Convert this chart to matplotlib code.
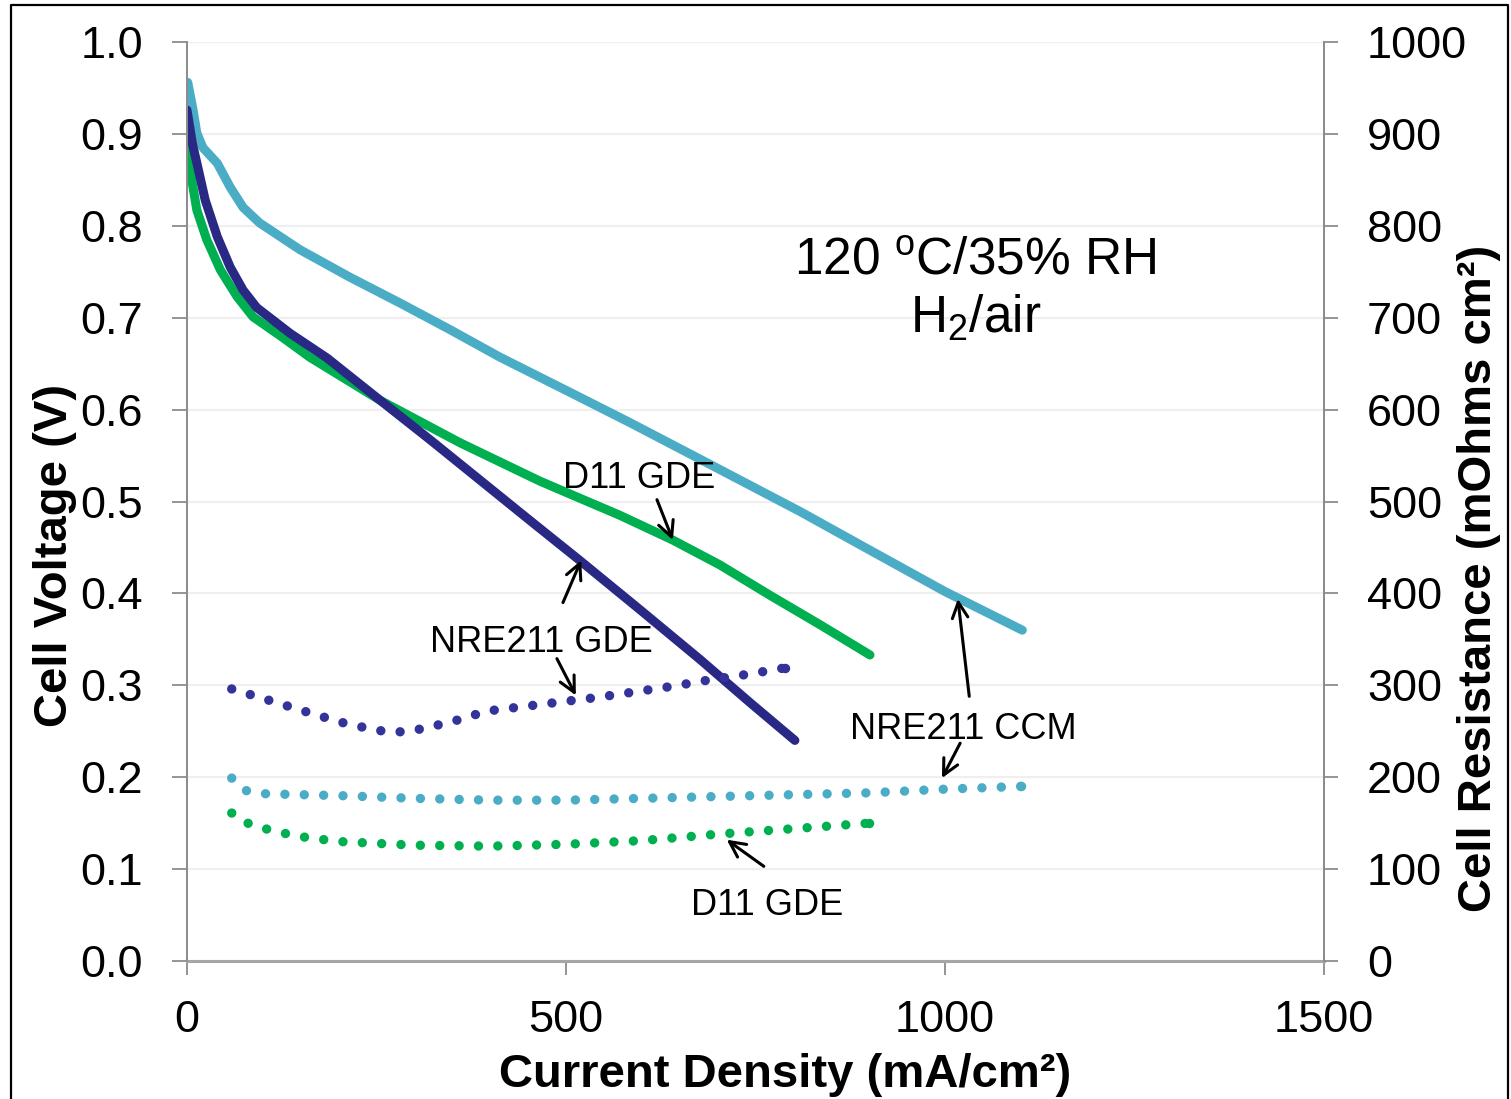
import matplotlib
matplotlib.use("Agg")
import matplotlib.pyplot as plt
from matplotlib.lines import Line2D

plt.rcParams['font.family'] = ['Liberation Sans', 'DejaVu Sans']
plt.rcParams['mathtext.fontset'] = 'custom'
plt.rcParams['mathtext.rm'] = 'Liberation Sans'
plt.rcParams['mathtext.it'] = 'Liberation Sans'

# polarization curves (current density mA/cm2, cell voltage V)
ccm_i = [1, 8, 13, 21, 40, 57, 74, 96, 149, 215, 281, 347, 413, 500, 584, 677,
         809, 901, 1000, 1102]
ccm_v = [0.956, 0.926, 0.901, 0.885, 0.868, 0.842, 0.820, 0.803, 0.774, 0.744,
         0.716, 0.687, 0.657, 0.621, 0.586, 0.546, 0.489, 0.447, 0.402, 0.360]

nre_i = [0, 7, 15, 24, 40, 57, 74, 92, 136, 185, 255, 321, 387, 453, 518, 598,
         677, 743, 802]
nre_v = [0.926, 0.890, 0.861, 0.828, 0.788, 0.755, 0.730, 0.711, 0.683, 0.656,
         0.610, 0.567, 0.523, 0.479, 0.436, 0.382, 0.328, 0.281, 0.240]

d11_i = [0, 4, 13, 26, 44, 66, 87, 127, 162, 255, 360, 466, 500, 571, 641, 703,
         769, 835, 901]
d11_v = [0.902, 0.861, 0.817, 0.785, 0.752, 0.723, 0.701, 0.678, 0.657, 0.610,
         0.564, 0.522, 0.510, 0.485, 0.458, 0.431, 0.398, 0.366, 0.333]

# cell resistance (mOhms cm2)
nre_ri = [59, 107, 154, 202, 250, 276, 300, 348, 396, 445, 494, 543, 592, 641, 690, 740, 789]
nre_r = [296, 284, 272, 260, 251, 249, 251, 260, 272, 277, 282, 287, 293, 299, 306, 312, 319]

ccm_ri = [59, 79, 103, 150, 200, 300, 400, 500, 600, 700, 800, 900, 1000, 1100]
ccm_r = [199, 185, 182, 181, 180, 177, 175, 175, 177, 179, 181, 183, 187, 190]

d11_ri = [59, 80, 103, 128, 153, 200, 300, 400, 500, 600, 700, 800, 900]
d11_r = [161, 150, 144, 139, 135, 130, 126, 125, 127, 131, 138, 144, 150]

LBLUE = '#4BACC6'
GREEN = '#00B050'
DBLUE = '#292985'
DOTBLUE = '#33339A'
GRAY = '#8C8C8C'

fig = plt.figure(figsize=(15.11, 10.99), dpi=100)
ax = fig.add_axes([187/1511, 1-961/1099, (1324-187)/1511, (961-42)/1099])
ax2 = ax.twinx()

ax.set_xlim(0, 1500)
ax.set_ylim(0, 1.0)
ax2.set_ylim(0, 1000)

ax.plot(ccm_i, ccm_v, color=LBLUE, lw=6.5, solid_capstyle='round', solid_joinstyle='round')
ax.plot(d11_i, d11_v, color=GREEN, lw=6.5, solid_capstyle='round', solid_joinstyle='round')
ax.plot(nre_i, nre_v, color=DBLUE, lw=6.5, solid_capstyle='round', solid_joinstyle='round')

dots = (0, (0.001, 2.05))
for xs, ys, c in [(nre_ri, nre_r, DOTBLUE), (ccm_ri, ccm_r, LBLUE), (d11_ri, d11_r, GREEN)]:
    ax2.plot(xs, ys, color=c, lw=6.8, linestyle=dots, dash_capstyle='round')
    ax2.plot(xs[-1:], ys[-1:], 'o', color=c, ms=6.8, mew=0)

ax.set_yticks([i/10 for i in range(11)])
ax.set_yticklabels(['%.1f' % (i/10) for i in range(11)])
ax.set_xticks([0, 500, 1000, 1500])
ax2.set_yticks(range(0, 1001, 100))
ax.yaxis.grid(True, color='#EFEFEF', lw=1.6)
ax.set_axisbelow(True)

for a in (ax, ax2):
    a.spines['top'].set_visible(False)
    for s in a.spines.values():
        s.set_color(GRAY)
        s.set_linewidth(1.3)
ax.spines['bottom'].set_linewidth(2.2)
ax.spines['bottom'].set_color('#A6A6A6')
ax2.spines['bottom'].set_visible(False)

ax.tick_params(axis='y', direction='out', length=10.5, width=1.3, color=GRAY,
               labelsize=32.5, pad=21)
ax.tick_params(axis='x', direction='out', length=10, width=1.3, color=GRAY,
               labelsize=32.5, pad=18)
ax2.tick_params(axis='y', direction='out', length=10, width=1.3, color=GRAY,
                labelsize=32.5, pad=21)

# condition text
ax.text(1040, 0.7465, '120 $^{\\rm o}$C/35% RH', fontsize=37, ha='center', va='baseline')
ax.text(1040, 0.684, 'H$_{\\rm 2}$/air', fontsize=37, ha='center', va='baseline')

# annotations
ax.text(596, 0.515, 'D11 GDE', fontsize=26, ha='center', va='baseline')
ax.text(467, 0.336, 'NRE211 GDE', fontsize=26, ha='center', va='baseline')
ax.text(1024, 0.2416, 'NRE211 CCM', fontsize=26, ha='center', va='baseline')
ax.text(765, 0.050, 'D11 GDE', fontsize=26, ha='center', va='baseline')

arrows = [
    ((641, 0.458), (620, 0.502)),
    ((520, 0.436), (496, 0.390)),
    ((513, 0.289), (488, 0.329)),
    ((1017, 0.394), (1032, 0.288)),
    ((996, 0.199), (1020, 0.237)),
    ((712, 0.132), (761, 0.103)),
]
for head, tail in arrows:
    ax.annotate('', xy=head, xytext=tail,
                arrowprops=dict(arrowstyle='->', color='black', lw=2.2,
                                mutation_scale=28, shrinkA=0, shrinkB=0),
                zorder=5)

fig.text(55/1511, 1-555/1099, 'Cell Voltage (V)', rotation=90, fontsize=34,
         fontweight='bold', ha='center', va='center')
fig.text(1479/1511, 1-578/1099, 'Cell Resistance (mOhms cm²)', rotation=90,
         fontsize=34, fontweight='bold', ha='center', va='center')
fig.text(785/1511, 12/1099, 'Current Density (mA/cm²)', fontsize=34,
         fontweight='bold', ha='center', va='baseline')

# outer frame
fig.add_artist(Line2D([10.5/1511, 10.5/1511, 1507.5/1511, 1507.5/1511],
                      [0, 1-5/1099, 1-5/1099, 0], color='black', lw=1.6,
                      transform=fig.transFigure))

fig.savefig('out.png', dpi=100)
